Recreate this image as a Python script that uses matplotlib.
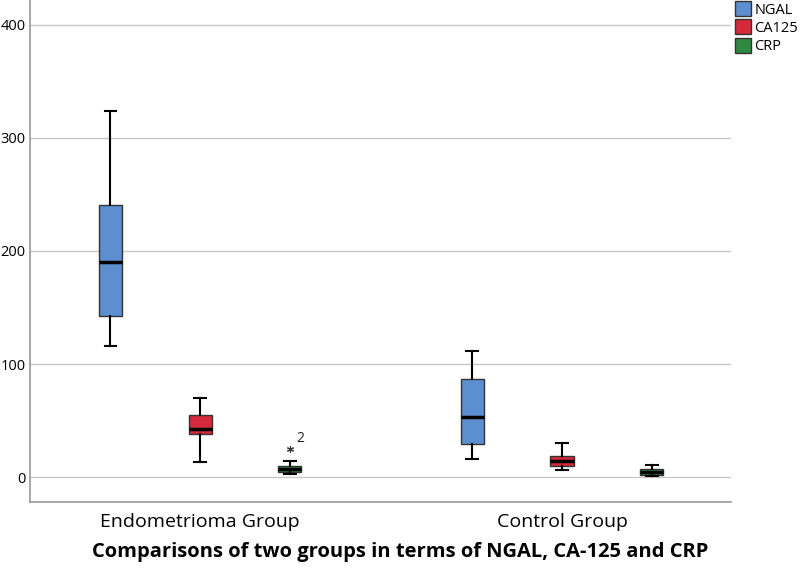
import matplotlib
matplotlib.use("Agg")
import matplotlib.pyplot as plt
from matplotlib.patches import Patch

plt.rcParams['font.family'] = ['Open Sans', 'DejaVu Sans']

groups = ["Endometrioma Group", "Control Group"]
markers = ["NGAL", "CA125", "CRP"]
colors = ["#5b8fd0", "#d6293b", "#2e8a40"]

# stats per group per marker: whislo, q1, med, q3, whishi
whislo = [[116, 13, 2.7], [16, 6, 0.8]]
q1 = [[142.5, 38, 4.5], [29, 9.7, 2.2]]
med = [[190, 42.5, 7.5], [53, 14, 4.5]]
q3 = [[240.7, 55, 10], [86.7, 18.6, 7]]
whishi = [[324, 70, 14], [111.5, 30, 10.5]]
outliers = [[[], [], [25]], [[], [], []]]
outlier_labels = [[[], [], ["2"]], [[], [], []]]

fig = plt.figure(figsize=(8, 5.68), dpi=100)
ax = fig.add_axes([0.0375, 0.1162, 0.8763, 0.8838])

offset = 0.248
width = 0.064
for gi, g in enumerate(groups):
    for mi, m in enumerate(markers):
        pos = gi + (mi - 1) * offset
        st = [dict(whislo=whislo[gi][mi], q1=q1[gi][mi], med=med[gi][mi],
                   q3=q3[gi][mi], whishi=whishi[gi][mi], fliers=outliers[gi][mi])]
        ax.bxp(st, positions=[pos], widths=width, patch_artist=True,
               boxprops=dict(facecolor=colors[mi], edgecolor="#333333", linewidth=1.0),
               medianprops=dict(color="black", linewidth=2.5),
               whiskerprops=dict(color="black", linewidth=1.5),
               capprops=dict(color="black", linewidth=1.5),
               capwidths=width * 0.5,
               flierprops=dict(marker=(6, 2, 0), markersize=5, markeredgecolor="#333333",
                               markeredgewidth=0.8, linestyle="none"),
               manage_ticks=False, zorder=3)
        for val, lab in zip(outliers[gi][mi], outlier_labels[gi][mi]):
            ax.annotate(lab, (pos, val), xytext=(5, 5), textcoords="offset points",
                        fontsize=10, color="#222222")

ax.set_xlim(-0.47, 1.467)
ax.set_ylim(-22.1, 422.1)
ax.set_yticks([0, 100, 200, 300, 400])
ax.yaxis.grid(True, color="#c8c8c8", linewidth=1.0)
ax.set_axisbelow(True)
ax.set_xticks([0, 1])
ax.set_xticklabels(groups, fontsize=14)
ax.tick_params(axis="x", length=0, pad=8)
ax.tick_params(axis="y", length=0, labelsize=10.5, pad=3)
for s in ["top", "right"]:
    ax.spines[s].set_visible(False)
for s in ["left", "bottom"]:
    ax.spines[s].set_color("#999999")
    ax.spines[s].set_linewidth(1.2)

fig.text(0.5, 0.028, "Comparisons of two groups in terms of NGAL, CA-125 and CRP",
         ha="center", va="center", fontsize=14.5, fontweight="bold")

handles = [Patch(facecolor=c, edgecolor="#333333", label=m) for c, m in zip(colors, markers)]
fig.legend(handles=handles, loc="upper left", bbox_to_anchor=(0.911, 1.008), frameon=False,
           fontsize=10.5, handlelength=1.1, handleheight=1.2, handletextpad=0.25,
           labelspacing=0.12, borderaxespad=0)

fig.savefig("out.png", dpi=100)
